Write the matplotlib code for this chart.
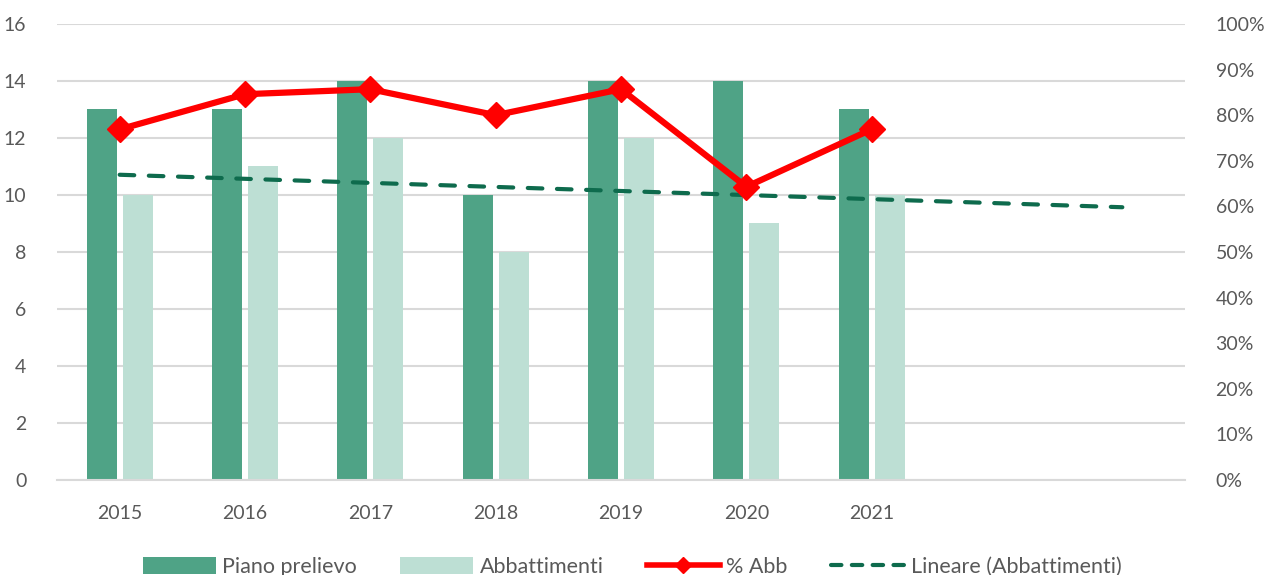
import matplotlib.pyplot as plt
from matplotlib.lines import Line2D
from matplotlib.ticker import PercentFormatter

plt.rcParams['font.family'] = ['Lato', 'DejaVu Sans']

anni = ['2015', '2016', '2017', '2018', '2019', '2020', '2021', '', '']
piano_prelievo = [13, 13, 14, 10, 14, 14, 13]
abbattimenti = [10, 11, 12, 8, 12, 9, 10]
perc_abb = [76.9, 84.6, 85.7, 80.0, 85.7, 64.3, 76.9]
# linea di tendenza (inizio e fine)
trend_x = [0, 8]
trend_y = [10.71, 9.57]

grigio = '#595959'
verde_scuro = '#4FA386'
verde_chiaro = '#BDDFD4'
rosso = '#FF0000'

fig = plt.figure(figsize=(12.64, 5.75), dpi=100)
ax = fig.add_axes([0.0451, 0.1652, 0.8924, 0.7931])
ax2 = ax.twinx()

x = list(range(len(piano_prelievo)))
w = 0.24
b1 = ax.bar([i - 0.143 for i in x], piano_prelievo, w, color=verde_scuro, zorder=2)
b2 = ax.bar([i + 0.143 for i in x], abbattimenti, w, color=verde_chiaro, zorder=2)
tr, = ax.plot(trend_x, trend_y, color='#0E6B4D', lw=3, ls=(0, (3.5, 3.5)),
              dash_capstyle='round', zorder=3)

ax2.plot(x, perc_abb, color=rosso, lw=4.5, marker='D', ms=13, zorder=4)

ax.set_xlim(-0.5, len(anni) - 0.5)
ax.set_xticks(range(len(anni)))
ax.set_xticklabels(anni)
ax.set_ylim(0, 16)
ax.set_yticks(range(0, 17, 2))
ax2.set_ylim(0, 100)
ax2.set_yticks(range(0, 101, 10))
ax2.yaxis.set_major_formatter(PercentFormatter(decimals=0))

ax.grid(axis='y', color='#D9D9D9', lw=1.5, zorder=0)
ax.set_axisbelow(True)
for a in (ax, ax2):
    for s in a.spines.values():
        s.set_visible(False)
ax.spines['bottom'].set_visible(True)
ax.spines['bottom'].set_color('#D9D9D9')
ax.spines['bottom'].set_linewidth(1.5)

ax.tick_params(axis='y', length=0, pad=22, labelsize=14, labelcolor=grigio)
ax.tick_params(axis='x', length=0, pad=18, labelsize=14, labelcolor=grigio)
ax2.tick_params(axis='y', length=0, pad=22, labelsize=14, labelcolor=grigio)

# legenda: marcatore piccolo come in Excel
h_perc = Line2D([], [], color=rosso, lw=4, marker='D', ms=8)
tr_leg = Line2D([], [], color='#0E6B4D', lw=3, ls=(0, (2.5, 2.5)), dash_capstyle='round')
fig.legend([b1, b2, h_perc, tr_leg],
           ['Piano prelievo', 'Abbattimenti', '% Abb', 'Lineare (Abbattimenti)'],
           loc='lower center', bbox_to_anchor=(0.5, -0.037), ncol=4,
           frameon=False, fontsize=15.5, labelcolor=grigio, handlelength=3.4,
           handleheight=0.8, handletextpad=0.3, columnspacing=2.0)

fig.savefig('out.png', dpi=100)
